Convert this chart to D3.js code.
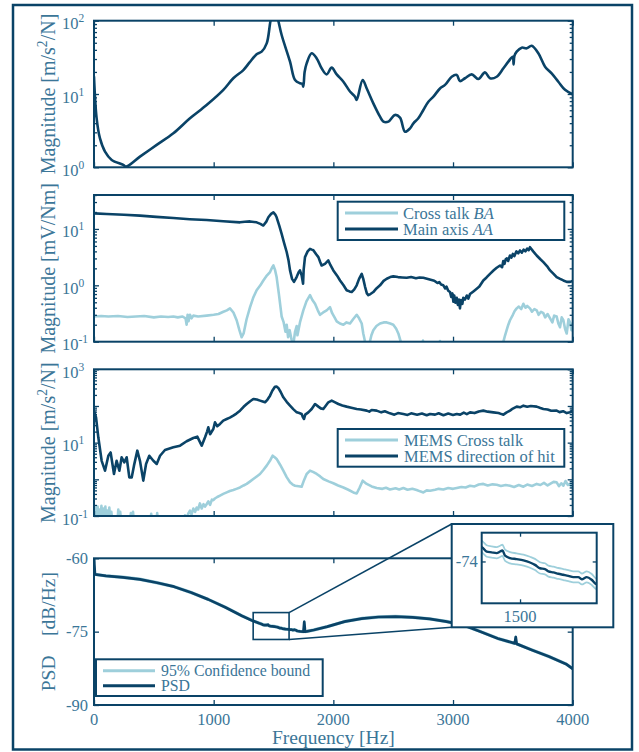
<!DOCTYPE html>
<html>
<head>
<meta charset="utf-8">
<script src="https://cdn.jsdelivr.net/npm/d3@7"></script>
<style>
  html, body { margin: 0; padding: 0; background: #ffffff; }
  svg { display: block; }
  svg text { font-family: "Liberation Serif", "DejaVu Serif", serif; }
</style>
</head>
<body>
<svg id="chart" width="639" height="752"></svg>
<script>
// ---------- data ----------
const frequencyTicks = [0, 1000, 2000, 3000, 4000];
const psdTicks = [-60, -75, -90];
const insetFreqTicks = [1500];
const insetPsdTicks = [-74];

// [frequency Hz, magnitude m/s^2/N]
const accelResponse = [[0,17.2],[22,4.66],[50,2.48],[92,1.64],[148,1.26],[245,1.08],[267,1.02],[384,1.40],[524,2.02],[663,2.91],[802,4.66],[941,7.08],[1081,11.4],[1164,16.4],[1248,21.2],[1300,27],[1359,34.8],[1401,37.8],[1443,49.0],[1475,100],[1505,165],[1540,100],[1568,63.8],[1638,27.6],[1680,15.5],[1721,14.0],[1740,13.8],[1749,12.6],[1760,20],[1777,26.2],[1819,35.9],[1861,30.6],[1902,22.4],[1944,18.5],[1986,22.9],[2028,18.5],[2084,14.7],[2139,10.8],[2181,9.2],[2195,8.3],[2245,15.5],[2279,11.9],[2334,7.46],[2390,4.91],[2418,4.2],[2460,4.2],[2515,5.18],[2557,4.75],[2599,3.06],[2641,3.4],[2669,3.98],[2710,4.66],[2752,6.05],[2794,7.85],[2836,9.2],[2891,11.9],[2933,13.3],[2989,17.2],[3031,18.2],[3058,15.0],[3100,16.4],[3156,18.5],[3212,16.0],[3267,19.7],[3309,16.4],[3365,17.2],[3421,22.4],[3462,27.6],[3499,32.3],[3506,25.4],[3513,33],[3532,37.8],[3574,42.9],[3616,42.0],[3657,45.6],[3713,35.9],[3769,23.6],[3824,19.1],[3880,14.7],[3936,11.4],[4000,9.9]];

// [frequency Hz, magnitude mV/Nm]
const mainAxisAA = [[0,18.9],[106,18.4],[250,17.9],[384,17.2],[520,16.4],[663,15.6],[800,14.9],[941,14.4],[1080,13.7],[1220,13.1],[1260,13.4],[1304,13.6],[1359,13.1],[1390,12.3],[1415,11.5],[1440,13.5],[1457,16.1],[1480,18.5],[1499,19.7],[1515,18.0],[1526,16.1],[1548,11.5],[1568,8.2],[1590,5.5],[1610,3.9],[1625,2.8],[1638,1.84],[1655,1.3],[1671,1.15],[1685,1.3],[1693,1.4],[1710,1.7],[1721,1.84],[1735,1.5],[1747,1.07],[1752,1.9],[1763,3.16],[1785,4.0],[1805,4.44],[1820,4.3],[1833,4.2],[1855,3.6],[1875,3.16],[1890,2.6],[1902,2.25],[1930,2.4],[1958,2.76],[1975,2.3],[2000,1.84],[2030,1.5],[2056,1.22],[2085,1.0],[2111,0.82],[2135,0.78],[2153,0.76],[2175,0.85],[2195,1.0],[2215,1.3],[2237,1.6],[2250,1.3],[2265,0.94],[2280,0.72],[2292,0.67],[2310,0.7],[2334,0.76],[2360,0.88],[2390,1.0],[2420,1.2],[2446,1.31],[2475,1.4],[2501,1.44],[2540,1.40],[2575,1.38],[2613,1.36],[2650,1.40],[2690,1.34],[2720,1.38],[2752,1.36],[2790,1.30],[2836,1.22],[2855,1.16],[2870,1.10],[2885,1.14],[2900,1.03],[2919,1.0],[2935,0.88],[2945,0.95],[2960,0.80],[2975,0.76],[2985,0.62],[2995,0.72],[3003,0.51],[3010,0.66],[3020,0.49],[3031,0.60],[3040,0.45],[3050,0.56],[3058,0.39],[3066,0.55],[3078,0.47],[3086,0.60],[3100,0.56],[3115,0.66],[3128,0.58],[3142,0.70],[3170,0.78],[3198,0.87],[3220,0.95],[3253,1.22],[3280,1.38],[3309,1.6],[3340,1.85],[3365,2.05],[3393,2.25],[3410,2.1],[3420,2.7],[3430,2.4],[3440,2.9],[3450,3.0],[3460,2.7],[3476,3.38],[3488,3.1],[3500,3.6],[3512,3.3],[3530,4.0],[3545,3.7],[3560,4.15],[3575,3.8],[3590,4.3],[3605,4.0],[3620,4.5],[3632,4.2],[3643,4.75],[3670,4.0],[3699,3.38],[3730,2.9],[3755,2.58],[3785,2.2],[3811,1.84],[3840,1.6],[3866,1.4],[3895,1.3],[3922,1.22],[3950,1.15],[3978,1.15],[4000,1.2]];

const crossTalkBA = [[0,0.28],[60,0.285],[120,0.28],[200,0.285],[280,0.275],[350,0.28],[420,0.285],[500,0.27],[560,0.28],[620,0.275],[663,0.28],[700,0.27],[740,0.28],[765,0.26],[774,0.20],[782,0.30],[790,0.23],[802,0.30],[815,0.26],[830,0.29],[870,0.28],[941,0.29],[1000,0.30],[1040,0.31],[1081,0.34],[1110,0.36],[1136,0.39],[1165,0.33],[1192,0.24],[1215,0.16],[1234,0.12],[1250,0.14],[1275,0.25],[1304,0.41],[1330,0.6],[1359,0.82],[1390,1.0],[1415,1.22],[1440,1.45],[1471,1.72],[1490,2.1],[1499,2.25],[1512,1.9],[1526,1.4],[1545,0.7],[1568,0.28],[1585,0.22],[1600,0.15],[1610,0.2],[1622,0.12],[1635,0.16],[1650,0.11],[1666,0.09],[1680,0.15],[1694,0.19],[1700,0.13],[1721,0.22],[1749,0.36],[1775,0.52],[1805,0.67],[1825,0.55],[1847,0.47],[1870,0.36],[1889,0.30],[1915,0.33],[1944,0.36],[1972,0.41],[1990,0.32],[2010,0.27],[2028,0.23],[2055,0.21],[2084,0.20],[2110,0.22],[2139,0.21],[2165,0.25],[2195,0.30],[2215,0.26],[2237,0.21],[2250,0.14],[2265,0.10],[2285,0.07],[2300,0.09],[2318,0.13],[2334,0.16],[2360,0.19],[2390,0.21],[2420,0.22],[2446,0.22],[2475,0.21],[2501,0.20],[2525,0.17],[2543,0.14],[2563,0.10],[2580,0.06],[2740,0.06],[2749,0.105],[2758,0.06],[2880,0.06],[2891,0.103],[2900,0.06],[3400,0.06],[3421,0.10],[3435,0.13],[3448,0.16],[3462,0.20],[3476,0.24],[3500,0.30],[3515,0.35],[3532,0.39],[3550,0.42],[3570,0.38],[3588,0.47],[3605,0.40],[3620,0.43],[3643,0.39],[3660,0.34],[3680,0.38],[3699,0.36],[3715,0.30],[3735,0.34],[3755,0.32],[3770,0.27],[3790,0.31],[3811,0.26],[3830,0.22],[3845,0.29],[3866,0.28],[3880,0.21],[3894,0.18],[3908,0.27],[3922,0.24],[3936,0.17],[3950,0.14],[3965,0.25],[3978,0.22],[3990,0.16],[4000,0.21]];

// [frequency Hz, magnitude m/s^2/N]
const memsDirectionOfHit = [[0,74.6],[17,49],[36,14],[64,3.2],[92,1.72],[120,4.4],[139,5.4],[155,2.5],[167,1.4],[189,3.2],[212,1.72],[231,4.0],[253,2.9],[273,4.0],[295,1.13],[315,1.13],[334,2.36],[362,6.05],[384,3.2],[412,0.92],[435,2.62],[462,4.4],[496,3.2],[524,2.62],[552,4.4],[593,6.3],[663,7.46],[719,8.28],[774,10.9],[830,13.4],[863,14.6],[900,8.28],[928,14.0],[945,20],[955,26.2],[970,17],[997,23.6],[1011,35.9],[1030,28],[1053,32.3],[1080,40],[1109,44.2],[1135,48],[1164,54.5],[1190,62],[1220,74.6],[1250,95],[1276,113],[1305,135],[1331,155],[1360,150],[1387,140],[1410,132],[1429,126],[1450,150],[1471,191],[1490,260],[1512,336],[1525,340],[1540,310],[1560,240],[1582,172],[1610,130],[1638,102],[1665,82],[1694,67],[1715,64],[1735,60.5],[1745,50],[1755,44.2],[1765,58],[1791,67],[1819,82.8],[1847,113],[1875,96],[1895,86],[1916,82.8],[1935,100],[1958,126],[1986,140],[2015,125],[2042,113],[2075,103],[2111,96],[2150,90],[2195,82.8],[2230,80],[2279,74.6],[2300,70],[2320,78],[2362,74.6],[2400,67],[2430,72],[2473,63],[2510,58],[2540,64],[2585,60.5],[2620,57],[2650,63],[2700,58],[2740,62],[2780,56],[2808,60.5],[2850,58],[2880,63],[2920,56],[2960,62],[3000,57],[3031,60.5],[3060,58],[3090,66],[3115,60],[3142,67],[3180,64],[3215,71],[3253,74.6],[3290,70],[3337,67],[3380,64],[3405,60],[3421,58],[3445,66],[3476,74.6],[3500,85],[3532,96],[3560,92],[3588,102],[3620,95],[3650,100],[3699,96],[3730,88],[3755,82.8],[3790,80],[3820,74],[3866,74.6],[3890,68],[3920,72],[3950,64],[3978,67],[4000,74.6]];

const memsCrossTalk = [[0,0.06],[12,0.17],[20,0.06],[30,0.18],[38,0.07],[46,0.15],[54,0.06],[62,0.19],[70,0.07],[78,0.16],[86,0.06],[95,0.18],[103,0.07],[112,0.14],[120,0.06],[128,0.17],[136,0.07],[145,0.13],[155,0.06],[195,0.06],[203,0.15],[211,0.07],[219,0.13],[228,0.06],[300,0.06],[308,0.12],[316,0.06],[326,0.13],[335,0.06],[470,0.06],[478,0.115],[486,0.06],[520,0.06],[528,0.12],[536,0.06],[740,0.06],[760,0.105],[775,0.09],[790,0.12],[802,0.14],[815,0.11],[830,0.16],[845,0.13],[858,0.17],[870,0.15],[885,0.22],[900,0.16],[915,0.21],[928,0.18],[941,0.21],[955,0.25],[970,0.2],[985,0.28],[997,0.27],[1010,0.3],[1030,0.33],[1053,0.36],[1080,0.40],[1109,0.44],[1135,0.48],[1164,0.51],[1190,0.55],[1220,0.6],[1250,0.68],[1276,0.75],[1305,0.88],[1331,1.02],[1360,1.2],[1387,1.4],[1415,1.8],[1443,2.36],[1470,3.2],[1493,4.4],[1510,4.0],[1526,3.6],[1555,2.5],[1582,1.72],[1610,1.15],[1638,0.83],[1660,0.72],[1680,0.67],[1710,0.65],[1735,0.63],[1755,0.95],[1777,1.4],[1805,1.72],[1830,1.6],[1861,1.4],[1890,1.2],[1916,1.02],[1960,0.88],[2000,0.78],[2040,0.68],[2084,0.6],[2125,0.52],[2167,0.44],[2195,0.41],[2220,0.6],[2245,0.92],[2279,0.75],[2320,0.64],[2362,0.58],[2410,0.55],[2440,0.59],[2473,0.53],[2520,0.57],[2550,0.53],[2585,0.58],[2620,0.52],[2660,0.55],[2696,0.51],[2725,0.47],[2752,0.44],[2780,0.5],[2808,0.49],[2850,0.52],[2880,0.55],[2919,0.53],[2960,0.58],[3000,0.55],[3031,0.58],[3070,0.62],[3105,0.6],[3142,0.67],[3180,0.64],[3215,0.72],[3253,0.75],[3290,0.68],[3330,0.73],[3365,0.71],[3400,0.66],[3440,0.7],[3476,0.67],[3510,0.62],[3550,0.7],[3588,0.63],[3620,0.72],[3660,0.66],[3699,0.75],[3730,0.7],[3760,0.8],[3790,0.68],[3811,0.75],[3840,0.85],[3866,0.83],[3885,0.65],[3905,0.78],[3922,0.67],[3940,0.9],[3960,0.7],[3978,0.75],[3990,0.62],[4000,0.67]];

// [frequency Hz, PSD dB/Hz, lower 95% bound, upper 95% bound]
const psdEstimate = [[0,-60,-60.2,-59.8],[8,-63.3,-63.5,-63.08],[100,-63.6,-63.8,-63.38],[242,-63.9,-64.1,-63.68],[384,-64.3,-64.5,-64.08],[527,-65.0,-65.2,-64.78],[669,-65.8,-66.0,-65.58],[811,-67.0,-67.2,-66.78],[954,-68.4,-68.6,-68.18],[1096,-70.0,-70.2,-69.78],[1238,-71.8,-72.0,-71.58],[1320,-72.7,-72.9,-72.48],[1381,-73.3,-73.5,-73.08],[1403,-73.48,-73.68,-73.24],[1413,-73.62,-73.82,-73.38],[1426,-73.65,-73.85,-73.42],[1439,-73.68,-73.88,-73.45],[1448,-73.62,-73.83,-73.4],[1454,-73.58,-73.79,-73.36],[1461,-73.78,-73.98,-73.55],[1474,-73.87,-74.07,-73.64],[1491,-73.91,-74.11,-73.69],[1509,-73.96,-74.16,-73.74],[1526,-74.04,-74.24,-73.82],[1539,-74.13,-74.33,-73.9],[1552,-74.26,-74.46,-74.03],[1565,-74.29,-74.49,-74.07],[1574,-74.38,-74.58,-74.16],[1587,-74.42,-74.62,-74.2],[1600,-74.47,-74.67,-74.25],[1613,-74.51,-74.71,-74.29],[1626,-74.55,-74.75,-74.33],[1639,-74.6,-74.8,-74.38],[1652,-74.6,-74.8,-74.38],[1661,-74.68,-74.88,-74.46],[1674,-74.6,-74.8,-74.38],[1687,-74.7,-74.9,-74.48],[1698,-74.86,-75.05,-74.65],[1722,-74.95,-75.15,-74.73],[1750,-75.0,-75.2,-74.78],[1757,-73.0,-73.2,-72.78],[1764,-75.0,-75.2,-74.78],[1779,-74.95,-75.15,-74.73],[1836,-74.66,-74.86,-74.44],[1950,-73.98,-74.18,-73.76],[2093,-72.95,-73.15,-72.73],[2235,-72.34,-72.54,-72.12],[2377,-72.0,-72.2,-71.78],[2520,-71.93,-72.13,-71.71],[2662,-72.07,-72.27,-71.85],[2804,-72.4,-72.6,-72.18],[2947,-72.95,-73.15,-72.73],[3089,-73.7,-73.9,-73.48],[3231,-75.0,-75.2,-74.78],[3374,-76.4,-76.6,-76.18],[3516,-77.4,-77.6,-77.18],[3524,-76.1,-76.3,-75.88],[3532,-77.5,-77.7,-77.28],[3658,-78.75,-78.95,-78.53],[3801,-80.1,-80.3,-79.88],[3943,-81.6,-81.8,-81.38],[4000,-82.6,-82.8,-82.38]];

// region of the PSD panel magnified in the inset
const zoomFreq = [1330, 1630];
const zoomPsd = [-76.6, -71.1];
const insetFreqDomain = [1400, 1700];
const insetPsdDomain = [-75.6, -72.9];

// ---------- style ----------
const DARK = "#0a4367";
const LIGHT = "#9ecfdb";
const TEXT = "#3b7698";
const FONT = "Liberation Serif, DejaVu Serif, serif";
const PLOT_L = 94, PLOT_R = 572.7;

const svg = d3.select("#chart").attr("font-family", FONT);
svg.append("rect").attr("width", 639).attr("height", 752).attr("fill", "#fff");

const x = d3.scaleLinear().domain([0, 4000]).range([PLOT_L, PLOT_R]);

function addText(g) {
  return g.append("text").attr("font-family", FONT).attr("fill", TEXT);
}

function tickGroup(g, axisFn, scale, values, size, transform) {
  const a = g.append("g").attr("transform", transform)
    .call(axisFn(scale).tickValues(values).tickSize(size).tickFormat(""));
  a.select(".domain").remove();
  a.selectAll(".tick text").remove();
  a.selectAll(".tick line").attr("stroke", DARK).attr("stroke-width", 1.3);
  return a;
}

function logTicks(domain) {
  const major = [], minor = [];
  for (let e = Math.floor(Math.log10(domain[0])); e <= Math.ceil(Math.log10(domain[1])); e++) {
    for (let m = 1; m <= 9; m++) {
      const v = m * Math.pow(10, e);
      if (v < domain[0] * 0.999 || v > domain[1] * 1.001) continue;
      (m === 1 ? major : minor).push(v);
    }
  }
  return { major, minor };
}

let clipId = 0;
function clipTo(g, x0, y0, w, h) {
  const id = "clip" + (clipId++);
  g.append("clipPath").attr("id", id).append("rect")
    .attr("x", x0).attr("y", y0).attr("width", w).attr("height", h);
  return g.append("g").attr("clip-path", `url(#${id})`);
}

function drawSeries(g, data, xs, ys, color, width, curve, col) {
  const c = col === undefined ? 1 : col;
  g.append("path").datum(data)
    .attr("d", d3.line().x(d => xs(d[0])).y(d => ys(d[c])).curve(curve || d3.curveLinear))
    .attr("fill", "none").attr("stroke", color).attr("stroke-width", width)
    .attr("stroke-linejoin", "round").attr("stroke-linecap", "round");
}

function frameBox(g, x0, y0, w, h, sw) {
  g.append("rect").attr("x", x0).attr("y", y0).attr("width", w).attr("height", h)
    .attr("fill", "none").attr("stroke", DARK).attr("stroke-width", sw || 2);
}

function yLabel(g, cy, parts, size) {
  const t = addText(g).attr("transform", `translate(55,${cy}) rotate(-90)`)
    .attr("text-anchor", "middle").attr("font-size", size);
  parts.forEach(p => {
    const s = t.append("tspan").text(p.t);
    if (p.sup) s.attr("font-size", size * 0.68).attr("dy", -8);
    if (p.after) s.attr("dy", 8);
  });
}

function logPanel(cfg) {
  const g = svg.append("g");
  const y = d3.scaleLog().domain(cfg.domain).range([cfg.bottom, cfg.top]);
  const plot = clipTo(g, PLOT_L, cfg.top, PLOT_R - PLOT_L, cfg.bottom - cfg.top);
  cfg.series.forEach(s => drawSeries(plot, s.data, x, y, s.color, s.width, s.curve));
  frameBox(g, PLOT_L, cfg.top, PLOT_R - PLOT_L, cfg.bottom - cfg.top);
  const lt = logTicks(cfg.domain);
  tickGroup(g, d3.axisBottom, x, frequencyTicks, -5, `translate(0,${cfg.bottom})`);
  tickGroup(g, d3.axisTop, x, frequencyTicks, -5, `translate(0,${cfg.top})`);
  tickGroup(g, d3.axisLeft, y, lt.major, -5, `translate(${PLOT_L},0)`);
  tickGroup(g, d3.axisRight, y, lt.major, -5, `translate(${PLOT_R},0)`);
  tickGroup(g, d3.axisLeft, y, lt.minor, -3, `translate(${PLOT_L},0)`);
  tickGroup(g, d3.axisRight, y, lt.minor, -3, `translate(${PLOT_R},0)`);
  // decade labels 10^k, on every decade or every other one
  const step = cfg.labelStep || 1;
  lt.major.forEach((v, i) => {
    if ((lt.major.length - 1 - i) % step !== 0) return;
    const t = addText(g).attr("x", 62).attr("y", y(v) + 8.5).attr("font-size", 16.5);
    t.append("tspan").text("10");
    t.append("tspan").attr("font-size", 11.5).attr("dy", -7).text(String(Math.round(Math.log10(v))));
  });
  yLabel(g, (cfg.top + cfg.bottom) / 2, cfg.label, 20);
  return { g, y };
}

function legend(g, box, rows, lineX, textX, fontSize) {
  g.append("rect").attr("x", box[0]).attr("y", box[1]).attr("width", box[2]).attr("height", box[3])
    .attr("fill", "#fff").attr("stroke", DARK).attr("stroke-width", 2);
  rows.forEach(r => {
    g.append("line").attr("x1", lineX[0]).attr("x2", lineX[1]).attr("y1", r.y).attr("y2", r.y)
      .attr("stroke", r.color).attr("stroke-width", 3);
    const t = addText(g).attr("x", textX).attr("y", r.y + 5.5).attr("font-size", fontSize);
    r.parts.forEach(p => {
      const s = t.append("tspan").text(p[0]);
      if (p[1]) s.attr("font-style", "italic");
    });
  });
}

// ---------- panel 1: structural response ----------
logPanel({
  top: 20.7, bottom: 167.3, domain: [1, 100],
  series: [{ data: accelResponse, color: DARK, width: 2.6, curve: d3.curveCatmullRom.alpha(0.5) }],
  label: [{ t: "Magnitude [m/s" }, { t: "2", sup: true }, { t: "/N]", after: true }]
});

// ---------- panel 2: sensor response ----------
const p2 = logPanel({
  top: 195, bottom: 341.7, domain: [0.1, 40],
  series: [
    { data: crossTalkBA, color: LIGHT, width: 2.6 },
    { data: mainAxisAA, color: DARK, width: 2.6 }
  ],
  label: [{ t: "Magnitude [mV/Nm]" }]
});
legend(p2.g, [337.7, 201.7, 226.6, 38.3], [
  { y: 213, color: LIGHT, parts: [["Cross talk "], ["BA", true]] },
  { y: 229, color: DARK, parts: [["Main axis "], ["AA", true]] }
], [345, 398], 403, 16.5);

// ---------- panel 3: MEMS response ----------
const p3 = logPanel({
  top: 369.3, bottom: 516, domain: [0.1, 1000], labelStep: 2,
  series: [
    { data: memsCrossTalk, color: LIGHT, width: 2.6 },
    { data: memsDirectionOfHit, color: DARK, width: 2.6 }
  ],
  label: [{ t: "Magnitude [m/s" }, { t: "2", sup: true }, { t: "/N]", after: true }]
});
legend(p3.g, [337.7, 429, 226.6, 37.7], [
  { y: 440, color: LIGHT, parts: [["MEMS Cross talk"]] },
  { y: 456, color: DARK, parts: [["MEMS direction of hit"]] }
], [345, 398], 404, 16.5);

// ---------- panel 4: PSD ----------
const P4_TOP = 558.3, P4_BOTTOM = 705;
const g4 = svg.append("g");
const y4 = d3.scaleLinear().domain([-90, -60]).range([P4_BOTTOM, P4_TOP]);
const plot4 = clipTo(g4, PLOT_L, P4_TOP, PLOT_R - PLOT_L, P4_BOTTOM - P4_TOP);
drawSeries(plot4, psdEstimate, x, y4, LIGHT, 1.4, d3.curveLinear, 2);
drawSeries(plot4, psdEstimate, x, y4, LIGHT, 1.4, d3.curveLinear, 3);
drawSeries(plot4, psdEstimate, x, y4, DARK, 2.7, d3.curveLinear, 1);
frameBox(g4, PLOT_L, P4_TOP, PLOT_R - PLOT_L, P4_BOTTOM - P4_TOP);
tickGroup(g4, d3.axisBottom, x, frequencyTicks, -5, `translate(0,${P4_BOTTOM})`);
tickGroup(g4, d3.axisTop, x, frequencyTicks, -5, `translate(0,${P4_TOP})`);
tickGroup(g4, d3.axisLeft, y4, psdTicks, -5, `translate(${PLOT_L},0)`);
tickGroup(g4, d3.axisRight, y4, psdTicks, -5, `translate(${PLOT_R},0)`);
psdTicks.forEach(v => {
  addText(g4).attr("x", 88).attr("y", y4(v) + 5.5).attr("text-anchor", "end")
    .attr("font-size", 16.5).text(v);
});
frequencyTicks.forEach(v => {
  addText(g4).attr("x", x(v)).attr("y", 725).attr("text-anchor", "middle")
    .attr("font-size", 16.5).text(v);
});
addText(g4).attr("x", (PLOT_L + PLOT_R) / 2).attr("y", 744).attr("text-anchor", "middle")
  .attr("font-size", 19.5).text("Frequency [Hz]");
yLabel(g4, (P4_TOP + P4_BOTTOM) / 2, [{ t: "PSD\u2002\u2002[dB/Hz]" }], 19.5);

legend(g4, [96, 659.3, 226.7, 36.7], [
  { y: 670.7, color: LIGHT, parts: [["95% Confidence bound"]] },
  { y: 685.7, color: DARK, parts: [["PSD"]] }
], [103, 155], 161, 15.8);

// magnified region and its connectors
const zx0 = x(zoomFreq[0]), zx1 = x(zoomFreq[1]);
const zy0 = y4(zoomPsd[1]), zy1 = y4(zoomPsd[0]);
g4.append("rect").attr("x", zx0).attr("y", zy0).attr("width", zx1 - zx0).attr("height", zy1 - zy0)
  .attr("fill", "none").attr("stroke", DARK).attr("stroke-width", 1.6);

const INSET = { x: 451.7, y: 524, w: 161.6, h: 103.3 };
const INSET_AX = { x0: 481.7, x1: 596.7, y0: 532.7, y1: 603.3 };
g4.append("line").attr("x1", zx1).attr("y1", zy0).attr("x2", INSET.x).attr("y2", INSET.y)
  .attr("stroke", DARK).attr("stroke-width", 1.6);
g4.append("line").attr("x1", zx1).attr("y1", zy1).attr("x2", INSET.x).attr("y2", INSET.y + INSET.h)
  .attr("stroke", DARK).attr("stroke-width", 1.6);

// ---------- inset ----------
const gi = svg.append("g");
gi.append("rect").attr("x", INSET.x).attr("y", INSET.y).attr("width", INSET.w).attr("height", INSET.h)
  .attr("fill", "#fff").attr("stroke", DARK).attr("stroke-width", 2);
const xi = d3.scaleLinear().domain(insetFreqDomain).range([INSET_AX.x0, INSET_AX.x1]);
const yi = d3.scaleLinear().domain(insetPsdDomain).range([INSET_AX.y1, INSET_AX.y0]);
const ploti = clipTo(gi, INSET_AX.x0, INSET_AX.y0, INSET_AX.x1 - INSET_AX.x0, INSET_AX.y1 - INSET_AX.y0);
drawSeries(ploti, psdEstimate, xi, yi, LIGHT, 1.8, d3.curveMonotoneX, 2);
drawSeries(ploti, psdEstimate, xi, yi, LIGHT, 1.8, d3.curveMonotoneX, 3);
drawSeries(ploti, psdEstimate, xi, yi, DARK, 2.4, d3.curveMonotoneX, 1);
frameBox(gi, INSET_AX.x0, INSET_AX.y0, INSET_AX.x1 - INSET_AX.x0, INSET_AX.y1 - INSET_AX.y0);
tickGroup(gi, d3.axisBottom, xi, insetFreqTicks, -4, `translate(0,${INSET_AX.y1})`);
tickGroup(gi, d3.axisTop, xi, insetFreqTicks, -4, `translate(0,${INSET_AX.y0})`);
tickGroup(gi, d3.axisLeft, yi, insetPsdTicks, -4, `translate(${INSET_AX.x0},0)`);
tickGroup(gi, d3.axisRight, yi, insetPsdTicks, -4, `translate(${INSET_AX.x1},0)`);
insetPsdTicks.forEach(v => {
  addText(gi).attr("x", INSET_AX.x0 - 4).attr("y", yi(v) + 5.5).attr("text-anchor", "end")
    .attr("font-size", 16.5).text(v);
});
insetFreqTicks.forEach(v => {
  addText(gi).attr("x", xi(v)).attr("y", INSET_AX.y1 + 18.5).attr("text-anchor", "middle")
    .attr("font-size", 16.5).text(v);
});

// ---------- outer frame ----------
svg.append("rect").attr("x", 13).attr("y", 5).attr("width", 619).attr("height", 744.5)
  .attr("fill", "none").attr("stroke", DARK).attr("stroke-width", 2.5);
</script>
</body>
</html>
